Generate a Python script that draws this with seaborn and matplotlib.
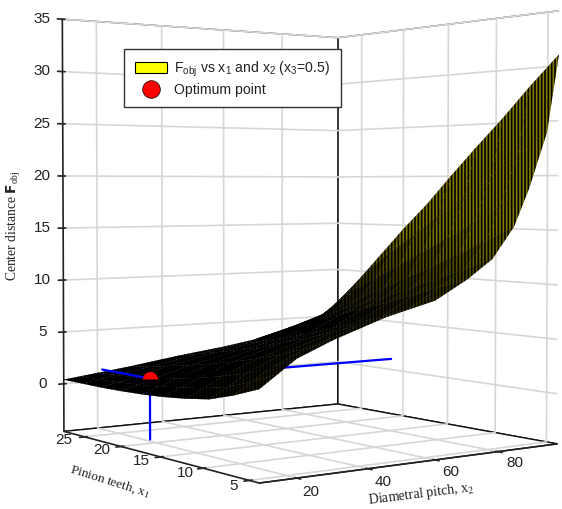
import numpy as np
import matplotlib
matplotlib.use("Agg")
import matplotlib.pyplot as plt
from matplotlib.lines import Line2D
from matplotlib.patches import Patch
from mpl_toolkits.mplot3d import proj3d
import seaborn as sns

# ---- data ----
pitch_nodes = [10, 15, 20, 30, 45, 60, 70, 78, 85, 90, 96, 100]
teeth_nodes = [4, 6.7, 9.3, 12, 14.7, 17.3, 20, 22.7, 25.3, 28]
row_00 = [2.9, 4.0, 5.1, 6.4, 8.0, 9.2, 10.9, 12.6, 15.4, 18.8, 23.9, 31.0]
row_01 = [2.0, 3.0, 4.0, 5.4, 7.0, 8.2, 10.0, 11.5, 14.0, 17.2, 22.0, 28.3]
row_02 = [1.3, 2.2, 3.2, 4.6, 6.2, 7.3, 9.1, 10.5, 12.7, 15.6, 20.0, 25.5]
row_03 = [0.95, 1.7, 2.6, 3.9, 5.4, 6.5, 8.2, 9.5, 11.4, 14.0, 18.0, 22.8]
row_04 = [0.7, 1.4, 2.1, 3.3, 4.7, 5.7, 7.4, 8.5, 10.2, 12.6, 16.2, 20.0]
row_05 = [0.55, 1.1, 1.7, 2.8, 4.0, 5.0, 6.6, 7.6, 9.0, 11.1, 14.2, 17.2]
row_06 = [0.45, 0.9, 1.4, 2.3, 3.4, 4.3, 5.9, 6.7, 7.8, 9.7, 12.4, 14.6]
row_07 = [0.4, 0.75, 1.1, 1.9, 2.9, 3.7, 5.0, 5.8, 6.6, 8.3, 10.4, 11.8]
row_08 = [0.4, 0.65, 0.95, 1.5, 2.4, 3.1, 4.0, 4.5, 5.0, 6.3, 7.9, 9.1]
row_09 = [0.4, 0.6, 0.8, 1.2, 1.9, 2.5, 3.0, 3.3, 3.6, 4.3, 5.4, 6.5]
optimum = (21.4, 21.4, 1.1)
pitch_ticks = [20, 40, 60, 80]
teeth_ticks = [5, 10, 15, 20, 25]
z_ticks = [0, 5, 10, 15, 20, 25, 30, 35]
pitch_lim = (10, 100)
teeth_lim = (4, 28)
z_lim = (-4.6, 35)

sns.set_theme(style="white")
plt.rcParams.update({
    "font.family": ["Liberation Sans", "DejaVu Sans"],
    "mathtext.default": "regular",
    "grid.color": "#d6d6d6",
    "grid.linewidth": 1.2,
    "hatch.linewidth": 1.2,
    "hatch.color": "black",
    "axes.linewidth": 1.0,
})
TEXT = "#222222"
BLUE = "#0000ff"

fig = plt.figure(figsize=(5.62, 5.09), dpi=100, facecolor="white")
ax = fig.add_axes([0.0767, 0.0405, 0.9057, 1.0], projection="3d",
                  computed_zorder=False)
ax.set_proj_type("persp", focal_length=0.587)
ax.view_init(elev=1.5, azim=-126)
ax.set_box_aspect((0.836, 0.841, 1.0), zoom=1.25)
ax.set_xlim(*pitch_lim, view_margin=0)
ax.set_ylim(*teeth_lim, view_margin=0)
ax.set_zlim(*z_lim, view_margin=0)

for axis in (ax.xaxis, ax.yaxis, ax.zaxis):
    axis.set_pane_color((1, 1, 1, 1))
    axis.pane.set_edgecolor("#111111")
    axis.pane.set_linewidth(1.0)
    axis.line.set_color("#222222")
    axis.line.set_linewidth(1.2)

ax.set_xticks(pitch_ticks)
ax.set_yticks(teeth_ticks)
ax.set_zticks(z_ticks)
for axis in (ax.xaxis, ax.yaxis, ax.zaxis):
    for tick in axis.get_major_ticks():
        tick.label1.set_visible(False)
ax.grid(True)

Z = np.array([row_00, row_01, row_02, row_03, row_04, row_05, row_06, row_07, row_08, row_09])
X, Y = np.meshgrid(pitch_nodes, teeth_nodes)

# cells go from black (grazing, low part) to olive (high part)
mix = np.maximum(np.clip((Z - 5.5) / 9.0, 0, 1),
                 0.18 * np.clip((12.5 - Y) / 8.5, 0, 1))
face = np.zeros(Z.shape + (4,))
face[..., 0] = 0.52 * mix
face[..., 1] = 0.49 * mix
face[..., 3] = 1.0

# lines hidden by the surface go first
ax.plot([optimum[0], pitch_lim[1]], [optimum[1]] * 2, [optimum[2]] * 2, color=BLUE, lw=1.6, zorder=2)
ax.plot([optimum[0]] * 2, [optimum[1]] * 2, [z_lim[0], optimum[2]], color=BLUE, lw=1.6, zorder=2)
surf = ax.plot_surface(X, Y, Z, rstride=1, cstride=1, facecolors=face, shade=False,
                       edgecolor="black", linewidth=0.12, antialiased=True, zorder=3)
surf.set_hatch("|||||")
surf.set_clip_on(False)
ax.plot([optimum[0]] * 2, [optimum[1], teeth_lim[1]], [optimum[2]] * 2, color=BLUE, lw=1.6, zorder=4)
ax.plot([optimum[0]], [optimum[1]], [optimum[2]], marker="o", ms=10.8, fillstyle="top",
        mfc="red", mec="red", mew=0, markerfacecoloralt="none", ls="none", zorder=5)


def tick_text(x, y, z, s):
    """Place a label at a data position, through the axes' own projection."""
    px, py, _ = proj3d.proj_transform(x, y, z, ax.get_proj())
    ax.text2D(px, py, s, transform=ax.transData, fontsize=11, color=TEXT,
              ha="center", va="center", zorder=6)


for v in teeth_ticks:
    tick_text(pitch_lim[0], v * 1.067 + 1.33, -5.4, str(v))
for v in pitch_ticks:
    tick_text(v * 1.0153 + 0.44, teeth_lim[0] - 1.07, -5.5, str(v))
for v in z_ticks:
    tick_text(pitch_lim[0] - 4.7, teeth_lim[1] + 0.67, v, str(v))

fig.text(14 / 562, 1 - 226 / 509, r"Center distance $\mathbf{F}_{obj}$", rotation=90,
         family="Liberation Serif", fontsize=9.8, color=TEXT, ha="center", va="center")
fig.text(110 / 562, 1 - 482 / 509, "Pinion teeth, x$_1$", rotation=-17.5, rotation_mode="anchor",
         family="Liberation Serif", fontsize=9.6, color=TEXT, ha="center", va="center")
fig.text(421 / 562, 1 - 494 / 509, "Diametral pitch, x$_2$", rotation=7, rotation_mode="anchor",
         family="Liberation Serif", fontsize=10, color=TEXT, ha="center", va="center")

handles = [Patch(facecolor="#ffff00", edgecolor="black", linewidth=0.8),
           Line2D([], [], marker="o", ms=12.7, mfc="red", mec="black", mew=0.5, ls="none")]
labels = ["F$_{obj}$ vs x$_1$ and x$_2$ (x$_3$=0.5)", "Optimum point"]
leg = fig.legend(handles, labels, loc="upper left", bbox_to_anchor=(124 / 562, 1 - 49 / 509),
                 borderaxespad=0, fontsize=10.1, frameon=True, fancybox=False, framealpha=1,
                 facecolor="white", edgecolor="#333333", handlelength=2.3, handleheight=0.75,
                 handletextpad=0.55, labelspacing=0.28, borderpad=0.75, labelcolor=TEXT)
leg.get_frame().set_linewidth(1.0)

fig.savefig("out.png", dpi=100)
